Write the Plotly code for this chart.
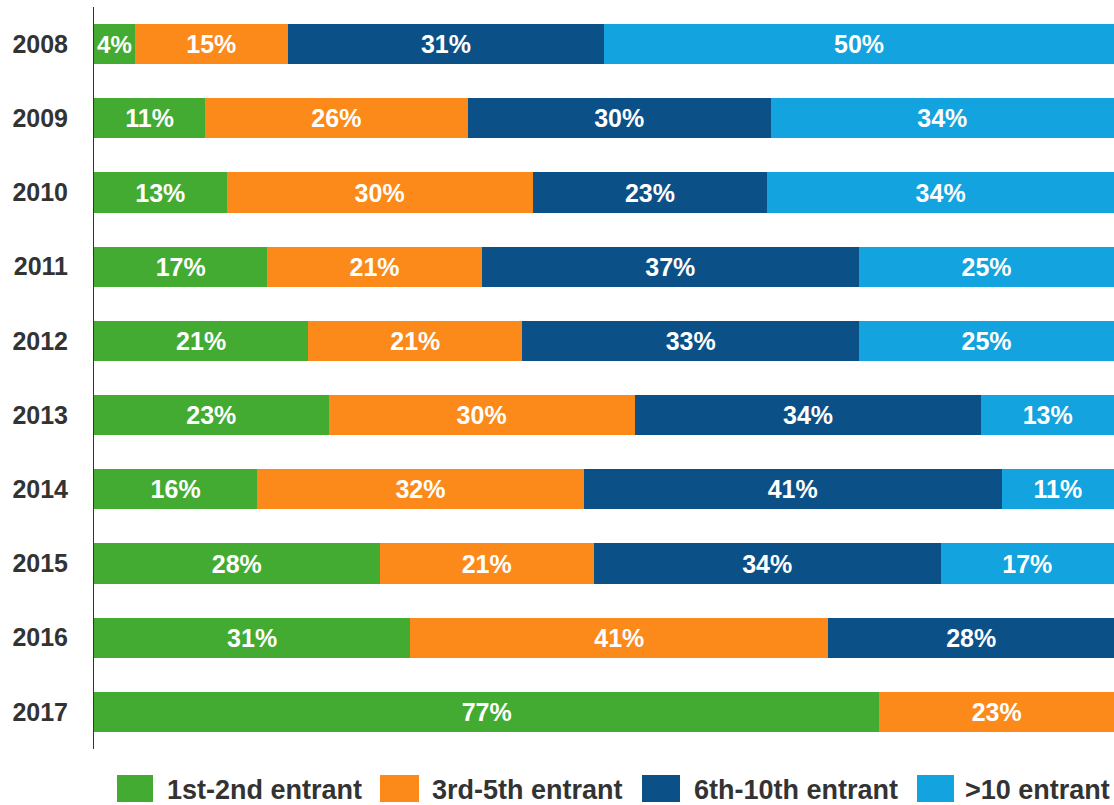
import plotly.graph_objects as go

years = ["2008", "2009", "2010", "2011", "2012", "2013", "2014", "2015", "2016", "2017"]
series_names = ["1st-2nd entrant", "3rd-5th entrant", "6th-10th entrant", ">10 entrant"]
first_second = [4, 11, 13, 17, 21, 23, 16, 28, 31, 77]
third_fifth = [15, 26, 30, 21, 21, 30, 32, 21, 41, 23]
sixth_tenth = [31, 30, 23, 37, 33, 34, 41, 34, 28, 0]
over_ten = [50, 34, 34, 25, 25, 13, 11, 17, 0, 0]
series_values = [first_second, third_fifth, sixth_tenth, over_ten]

colors = ["#43AB32", "#FC8A1A", "#0C5088", "#13A3DE"]
FONT = "Liberation Sans, Arial, sans-serif"

# plot area in pixels
L, R, T, B = 94, 1114, 7, 749


def px_x(p):
    return (p - L) / (R - L)


def px_y(p):
    return (B - p) / (B - T)


fig = go.Figure()
for name, vals, col in zip(series_names, series_values, colors):
    fig.add_trace(go.Bar(
        y=years, x=vals, name=name, orientation="h",
        marker=dict(color=col, line=dict(width=0)),
        text=[f"{v}%" if v else "" for v in vals],
        texttemplate="%{text}",
        textposition="inside", insidetextanchor="middle", textangle=0,
        insidetextfont=dict(family=FONT, size=25, color="white", weight="bold"),
        showlegend=False, hoverinfo="skip",
    ))

# manual legend (large swatches)
sw_x = [(117, 153), (380, 419), (642, 680), (917, 954)]
tx_x = [165, 430, 692, 963]
for (x0, x1), tx, name, col in zip(sw_x, tx_x, series_names, colors):
    fig.add_shape(type="rect", xref="paper", yref="paper",
                  x0=px_x(x0), x1=px_x(x1), y0=px_y(802), y1=px_y(775),
                  fillcolor=col, line=dict(width=0))
    fig.add_annotation(xref="paper", yref="paper", x=px_x(tx), y=px_y(790),
                       text=name, showarrow=False, xanchor="left", yanchor="middle",
                       font=dict(family=FONT, size=27, color="#333333", weight="bold"))

fig.update_layout(
    width=1114, height=805,
    margin=dict(l=L, r=1114 - R, t=T, b=805 - B, pad=0),
    barmode="stack", barnorm="percent", bargap=0.46,
    plot_bgcolor="white", paper_bgcolor="white",
    xaxis=dict(visible=False, range=[0, 100], fixedrange=True),
    yaxis=dict(autorange="reversed", showline=True, linecolor="#333333", linewidth=1,
               showgrid=False, zeroline=False, ticks="", ticklabelstandoff=20,
               tickfont=dict(family=FONT, size=25, color="#333333", weight="bold")),
)

fig.write_html(
    "out.html",
    config={"displayModeBar": False},
    post_script="document.body.style.margin='0';document.body.style.overflow='hidden';",
)
